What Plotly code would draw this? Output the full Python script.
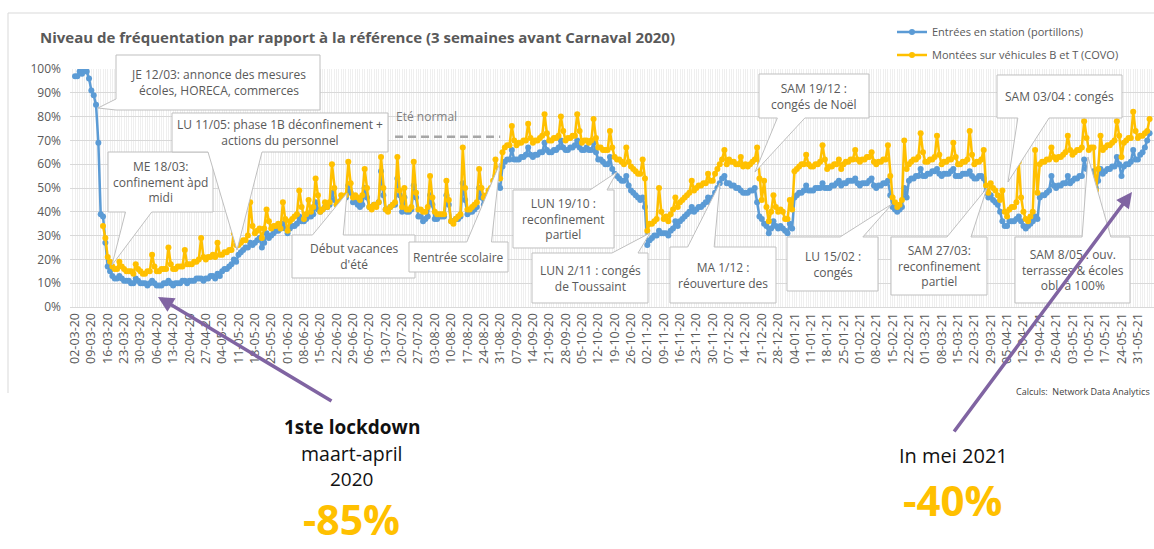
import pandas as pd
import plotly.graph_objects as go

# ---------------------------------------------------------------------------
# Data: daily ridership index (% of the reference level), one row per week
# (Monday .. Sunday), from Monday 2 March 2020 to Saturday 5 June 2021.
# ---------------------------------------------------------------------------
dates = pd.date_range("2020-03-02", "2021-06-05", freq="D")

portillons_weeks = [
    [97, 97, 99, 98, 100, 99, 96], [91, 89, 85, 69, 39, 38, 27],
    [17, 15, 13, 12, 12, 13, 12], [11, 11, 11, 10, 10, 12, 11],
    [10, 10, 10, 9, 10, 11, 10], [9, 9, 9, 10, 10, 11, 10],
    [9, 10, 10, 10, 11, 11, 10], [11, 11, 11, 12, 12, 12, 11],
    [12, 12, 13, 13, 12, 14, 13], [15, 16, 16, 17, 18, 20, 19],
    [22, 23, 24, 25, 25, 27, 26], [27, 28, 29, 25, 27, 31, 29],
    [30, 31, 32, 32, 33, 35, 33], [31, 33, 34, 34, 35, 38, 36],
    [36, 37, 38, 38, 39, 44, 41], [40, 41, 42, 42, 43, 48, 45],
    [43, 44, 45, 45, 46, 51, 48], [44, 45, 43, 42, 43, 50, 46],
    [42, 42, 43, 43, 44, 57, 47], [41, 41, 42, 43, 43, 54, 47],
    [40, 46, 40, 40, 41, 51, 46], [38, 38, 36, 37, 38, 47, 43],
    [37, 37, 38, 38, 38, 47, 43], [36, 36, 37, 37, 38, 52, 45],
    [39, 40, 40, 41, 42, 50, 46], [43, 44, 45, 46, 48, 55, 51],
    [50, 59, 61, 62, 62, 66, 62], [62, 62, 63, 63, 64, 67, 64],
    [63, 64, 64, 65, 65, 69, 66], [65, 65, 66, 66, 67, 70, 67],
    [66, 66, 67, 67, 68, 70, 67], [66, 66, 67, 66, 66, 69, 65],
    [62, 62, 61, 60, 60, 63, 58], [56, 55, 54, 53, 53, 55, 51],
    [49, 48, 47, 46, 45, 46, 42], [26, 28, 29, 30, 30, 32, 31],
    [31, 31, 30, 32, 33, 36, 34], [36, 37, 38, 39, 40, 42, 40],
    [41, 42, 42, 43, 44, 46, 44], [46, 48, 50, 52, 54, 55, 52],
    [52, 51, 51, 50, 50, 49, 48], [48, 48, 49, 49, 50, 44, 38],
    [37, 35, 34, 31, 33, 36, 34], [33, 34, 33, 32, 31, 35, 33],
    [46, 47, 48, 48, 49, 51, 49], [49, 49, 50, 50, 50, 52, 50],
    [50, 50, 51, 51, 52, 53, 51], [52, 52, 53, 53, 53, 54, 52],
    [51, 52, 52, 52, 53, 54, 51], [50, 51, 51, 52, 52, 53, 47],
    [42, 41, 40, 41, 42, 50, 46], [53, 54, 54, 55, 55, 58, 55],
    [55, 56, 56, 57, 57, 58, 56], [55, 56, 56, 56, 57, 58, 55],
    [55, 55, 56, 56, 56, 57, 55], [54, 54, 55, 55, 54, 48, 46],
    [47, 45, 44, 43, 40, 36, 34], [34, 36, 36, 36, 37, 38, 36],
    [34, 33, 34, 35, 36, 38, 37], [46, 47, 47, 48, 49, 55, 51],
    [50, 51, 51, 52, 52, 55, 52], [53, 54, 54, 55, 55, 62, 58],
    [56, 56, 57, 50, 53, 58, 56], [57, 58, 58, 59, 59, 63, 60],
    [55, 59, 60, 60, 61, 66, 62], [62, 64, 65, 67, 70, 73],
]

covo_weeks = [
    [None] * 7, [None, None, None, None, None, 34, 29],
    [21, 19, 17, 16, 16, 19, 17], [16, 15, 15, 15, 14, 18, 16],
    [15, 14, 14, 15, 15, 22, 17], [15, 15, 16, 16, 16, 25, 18],
    [16, 16, 17, 17, 17, 24, 18], [18, 18, 19, 19, 20, 29, 21],
    [20, 21, 21, 22, 21, 27, 22], [22, 23, 23, 24, 24, 31, 26],
    [26, 27, 28, 28, 30, 44, 34], [31, 32, 33, 29, 33, 41, 36],
    [33, 34, 34, 35, 33, 44, 37], [32, 36, 37, 38, 39, 49, 42],
    [37, 39, 45, 40, 42, 54, 47], [40, 41, 44, 42, 44, 60, 50],
    [43, 44, 47, 45, 47, 61, 52], [46, 47, 46, 45, 47, 58, 50],
    [42, 41, 43, 42, 44, 63, 50], [41, 40, 42, 43, 44, 63, 49],
    [42, 50, 41, 41, 42, 61, 48], [41, 41, 40, 40, 42, 55, 46],
    [40, 39, 39, 39, 39, 53, 45], [36, 35, 37, 38, 39, 67, 50],
    [41, 41, 42, 43, 44, 58, 50], [46, 47, 49, 50, 53, 62, 56],
    [54, 65, 67, 68, 68, 76, 70], [68, 69, 69, 70, 70, 77, 71],
    [69, 70, 70, 71, 72, 81, 73], [70, 70, 71, 71, 72, 80, 74],
    [70, 71, 71, 72, 72, 81, 74], [69, 70, 70, 69, 70, 79, 71],
    [67, 67, 66, 66, 66, 74, 67], [63, 62, 62, 61, 60, 67, 61],
    [59, 58, 57, 56, 56, 62, 54], [32, 35, 35, 36, 37, 50, 40],
    [37, 38, 36, 39, 41, 46, 42], [44, 45, 46, 47, 48, 53, 49],
    [50, 51, 51, 52, 52, 56, 53], [53, 56, 58, 60, 62, 66, 60],
    [62, 61, 61, 60, 60, 63, 59], [60, 59, 60, 61, 62, 67, 54],
    [45, 53, 42, 36, 40, 47, 42], [40, 41, 40, 37, 37, 45, 41],
    [57, 58, 59, 60, 60, 64, 60], [59, 59, 60, 60, 61, 68, 62],
    [58, 59, 59, 60, 60, 62, 58], [60, 61, 61, 62, 62, 66, 62],
    [61, 62, 62, 63, 63, 65, 61], [60, 61, 61, 62, 62, 68, 55],
    [46, 44, 42, 43, 45, 70, 58], [60, 61, 62, 62, 63, 73, 65],
    [61, 61, 62, 62, 63, 72, 64], [60, 61, 61, 62, 62, 69, 63],
    [60, 60, 61, 61, 62, 74, 64], [60, 61, 61, 62, 66, 51, 48],
    [52, 50, 49, 47, 45, 49, 40], [38, 41, 42, 42, 44, 61, 46],
    [40, 37, 36, 38, 40, 66, 48], [60, 61, 61, 62, 62, 67, 63],
    [62, 63, 63, 64, 65, 72, 66], [64, 65, 66, 66, 67, 78, 71],
    [66, 67, 67, 49, 58, 72, 66], [67, 68, 68, 69, 70, 78, 72],
    [63, 69, 70, 71, 71, 82, 74], [71, 72, 72, 73, 74, 79],
]

portillons = [v for week in portillons_weeks for v in week]
covo = [v for week in covo_weeks for v in week]

series_names = ["Entrées en station (portillons)",
                "Montées sur véhicules B et T (COVO)"]
series_colors = ["#5B9BD5", "#FFC000"]

# weekly category labels on the time axis (every Monday)
tick_dates = pd.date_range("2020-03-02", "2021-05-31", freq="7D")
tick_text = [d.strftime("%d-%m-%y") for d in tick_dates]

ete_normal = 71.5  # usual summer level (%)

# ---------------------------------------------------------------------------
# Layout geometry (pixels)
# ---------------------------------------------------------------------------
W, H = 1154, 549
PL, PR, PT, PB = 70, 1154, 69, 307      # plot area
X_FIRST, PX_PER_DAY = 75, 2.336          # position of first day, day width
FONT = "Open Sans"
GREY = "#595959"


def px(x):
    return (x - PL) / (PR - PL)


def py(y):
    return (PB - y) / (PB - PT)


x_start = dates[0] - pd.Timedelta(days=(X_FIRST - PL) / PX_PER_DAY)
x_end = x_start + pd.Timedelta(days=(PR - PL) / PX_PER_DAY)

fig = go.Figure()
fig.add_trace(go.Scatter(
    x=dates, y=portillons, name=series_names[0], mode="lines+markers",
    line=dict(color=series_colors[0], width=2.5),
    marker=dict(size=6, color=series_colors[0]),
    legend="legend", showlegend=True))
fig.add_trace(go.Scatter(
    x=dates, y=covo, name=series_names[1], mode="lines+markers",
    line=dict(color=series_colors[1], width=2.5),
    marker=dict(size=6, color=series_colors[1]),
    legend="legend2", showlegend=True))

shapes = []
annotations = []

# chart frame (top and left edges)
shapes.append(dict(
    type="path", xref="paper", yref="paper", layer="below",
    path=f"M {px(8)},{py(393)} L {px(8)},{py(13)} L {px(1200)},{py(13)}",
    line=dict(color="#D9D9D9", width=1)))

# usual summer level, drawn over the gridlines but under the series
shapes.append(dict(
    type="line", xref="x", yref="y", layer="between",
    x0="2020-07-17", x1="2020-08-31", y0=ete_normal, y1=ete_normal,
    line=dict(color="#A6A6A6", width=2.5, dash="8px,5px")))
annotations.append(dict(
    text="Eté normal", xref="paper", yref="paper", x=px(394), y=py(117),
    xanchor="left", yanchor="middle", showarrow=False,
    font=dict(family=FONT, size=12, color="#7F7F7F")))


def callout(box, tip, lines, base=None):
    """White rectangular callout with a wedge pointing to `tip`."""
    L, T, R, B = box
    tx, ty = tip
    w, h = R - L, B - T
    cx, cy = (L + R) / 2, (T + B) / 2
    dx, dy = tx - cx, ty - cy
    if abs(dx) / w > abs(dy) / h:
        a, b = (T + h * 2 / 12, T + h * 5 / 12) if dy < 0 else \
               (T + h * 7 / 12, T + h * 10 / 12)
        if base:
            a, b = base
        if dx < 0:
            pts = [(L, T), (R, T), (R, B), (L, B), (L, b), (tx, ty), (L, a)]
        else:
            pts = [(L, T), (R, T), (R, a), (tx, ty), (R, b), (R, B), (L, B)]
    else:
        a, b = (L + w * 2 / 12, L + w * 5 / 12) if dx < 0 else \
               (L + w * 7 / 12, L + w * 10 / 12)
        if base:
            a, b = base
        if dy > 0:
            pts = [(L, T), (R, T), (R, B), (b, B), (tx, ty), (a, B), (L, B)]
        else:
            pts = [(L, T), (a, T), (tx, ty), (b, T), (R, T), (R, B), (L, B)]
    path = "M " + " L ".join(f"{px(x):.5f},{py(y):.5f}" for x, y in pts) + " Z"
    shapes.append(dict(type="path", path=path, xref="paper", yref="paper",
                       layer="above", fillcolor="white",
                       line=dict(color="#BFBFBF", width=1)))
    annotations.append(dict(
        text="<br>".join(lines), xref="paper", yref="paper",
        x=px(cx), y=py(cy), xanchor="center", yanchor="middle",
        showarrow=False, align="center",
        font=dict(family=FONT, size=12, color=GREY)))


callout((116, 55, 320, 110), (98, 108),
        ["JE 12/03: annonce des mesures", "écoles, HORECA, commerces"],
        base=(99, 110))
callout((108, 152, 213, 212), (112, 265),
        ["ME 18/03:", "confinement àpd", "midi"])
callout((172, 113, 388, 152), (237, 250),
        ["LU 11/05: phase 1B déconfinement +", "actions du personnel"])
callout((292, 235, 415, 278), (347, 193), ["Début vacances", "d'été"])
callout((409, 242, 508, 272), (500, 163), ["Rentrée scolaire"])
callout((513, 190, 614, 248), (617, 172),
        ["LUN 19/10 :", "reconfinement", "partiel"], base=(590, 607))
callout((532, 253, 648, 303), (650, 233),
        ["LUN 2/11 : congés", "de Toussaint"], base=(612, 638))
callout((670, 247, 776, 303), (720, 183), ["MA 1/12 :", "réouverture des"])
callout((759, 74, 869, 118), (755, 172), ["SAM 19/12 :", "congés de Noël"])
callout((787, 237, 878, 291), (892, 204), ["LU 15/02 :", "congés"])
callout((891, 237, 987, 295), (987, 188),
        ["SAM 27/03:", "reconfinement", "partiel"])
callout((997, 75, 1122, 118), (1008, 182), ["SAM 03/04 : congés"])
callout((1015, 237, 1130, 303), (1088, 157),
        ["SAM 8/05 : ouv.", "terrasses & écoles", "obl. à 100%"])

annotations.append(dict(
    text="Calculs:  Network Data Analytics", xref="paper", yref="paper",
    x=px(1014), y=py(391), xanchor="left", yanchor="middle",
    showarrow=False, font=dict(family=FONT, size=9, color="#404040")))

# commentary below the chart
notes = [
    dict(text="<b>1ste lockdown</b>", x=px(352), y=py(427),
         font=dict(family=FONT, size=19, color="#111111")),
    dict(text="maart-april", x=px(352), y=py(453),
         font=dict(family=FONT, size=19.5, color="#111111")),
    dict(text="2020", x=px(352), y=py(479),
         font=dict(family=FONT, size=19, color="#111111")),
    dict(text="<b>-85%</b>", x=px(351), y=py(548.5), yanchor="bottom",
         font=dict(family=FONT, size=41, color="#FFC000")),
    dict(text="In mei 2021", x=px(953), y=py(455),
         font=dict(family=FONT, size=20, color="#111111")),
    dict(text="<b>-40%</b>", x=px(952), y=py(499.5),
         font=dict(family=FONT, size=42, color="#FFC000")),
]
for a in notes:
    a.setdefault("yanchor", "middle")
    a.update(xref="paper", yref="paper", xanchor="center", showarrow=False)
annotations += notes

# purple arrows
for head, tail in [((158, 297), (333, 402)), ((1132, 192), (953, 433))]:
    annotations.append(dict(
        text="", xref="paper", yref="paper", x=px(head[0]), y=py(head[1]),
        ax=tail[0] - head[0], ay=tail[1] - head[1], showarrow=True,
        arrowhead=2, arrowsize=0.9, arrowwidth=3.5, arrowcolor="#8064A2"))

legend_common = dict(xanchor="left", yanchor="middle", visible=True,
                     bgcolor="rgba(0,0,0,0)", itemwidth=30,
                     font=dict(family=FONT, size=11, color=GREY))

fig.update_layout(
    width=W, height=H,
    margin=dict(l=PL, r=W - PR, t=PT, b=H - PB, autoexpand=False),
    paper_bgcolor="white", plot_bgcolor="white",
    font=dict(family=FONT, color=GREY),
    showlegend=True,
    title=dict(
        text="Niveau de fréquentation par rapport à la référence "
             "(3 semaines avant Carnaval 2020)",
        xref="container", yref="container", x=40 / W, y=1 - 38 / H,
        xanchor="left", yanchor="middle",
        font=dict(family=FONT, size=15, color=GREY, weight=700)),
    legend=dict(x=px(892), y=py(32), **legend_common),
    legend2=dict(x=px(892), y=py(55), **legend_common),
    xaxis=dict(
        type="date", range=[x_start, x_end], tickmode="array",
        tickvals=tick_dates, ticktext=tick_text, tickangle=-90,
        tickfont=dict(family=FONT, size=12.5, color=GREY),
        showgrid=False, zeroline=False, showline=True,
        linecolor="#D9D9D9", ticks="",
        minor=dict(tickmode="linear", tick0="2020-03-02", dtick=86400000,
                   showgrid=True, gridcolor="#EFEFEF", gridwidth=1),
        automargin=False),
    yaxis=dict(
        range=[0, 100], tickmode="linear", tick0=0, dtick=10,
        ticksuffix="%", tickfont=dict(family=FONT, size=12, color=GREY),
        showgrid=True, gridcolor="#D9D9D9", zeroline=False,
        showline=False, ticklabelstandoff=8, automargin=False),
    shapes=shapes,
    annotations=annotations,
)

fig.write_html("out.html")
